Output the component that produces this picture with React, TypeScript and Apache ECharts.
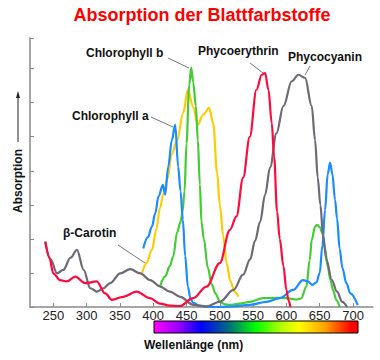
import React, { useEffect, useRef } from 'react';
import * as echarts from 'echarts';

const xTicks = [250, 300, 350, 400, 450, 500, 550, 600, 650, 700];

const carotinWave = [383, 390, 398, 405, 410, 415, 421, 428, 436, 445, 452, 460, 467, 475, 484, 490, 496, 500, 505, 510, 516, 522, 528];
const carotinValues = [0.97, 1.29, 1.68, 2.3, 2.9, 3.3, 3.74, 4.5, 4.9, 5.7, 6.38, 5.88, 5.35, 5.65, 5.85, 5.4, 3.94, 3.0, 2.1, 1.3, 0.75, 0.45, 0.3];

const chlBWave = [410, 418, 425, 430, 436, 441, 444, 447, 450, 454, 457, 460, 464, 467, 470, 472.5, 476, 482, 488, 494, 500, 508, 515, 530, 545, 565, 585, 600, 615, 622, 630, 635, 638, 643, 646, 650, 654, 658, 662, 666, 670, 675, 680];
const chlBValues = [0.59, 0.9, 1.2, 1.48, 2.2, 2.5, 2.8, 3.4, 4.8, 6.5, 7.03, 6.6, 5.9, 4.9, 3.6, 2.5, 2.0, 1.15, 0.65, 0.38, 0.15, 0.08, 0.06, 0.1, 0.15, 0.26, 0.27, 0.26, 0.22, 0.25, 0.6, 1.38, 1.97, 2.36, 2.41, 2.35, 2.17, 1.7, 1.2, 0.8, 0.5, 0.2, 0.0];

const chlAWave = [385, 392, 398, 403, 408, 414.5, 418, 422.5, 428, 433, 437.5, 441, 444.5, 448, 452, 456, 460, 470, 480, 500, 520, 545, 570, 590, 610, 625, 632, 639, 645, 650, 654, 658, 662, 665.5, 669, 673, 676, 680, 684, 690, 696, 707];
const chlAValues = [1.72, 2.05, 2.36, 2.75, 3.25, 3.59, 3.3, 4.12, 4.9, 5.35, 4.12, 3.4, 2.56, 1.5, 0.6, 0.25, 0.12, 0.03, 0.0, 0.0, 0.02, 0.06, 0.15, 0.26, 0.5, 0.79, 0.75, 0.65, 0.72, 1.0, 1.8, 2.85, 3.9, 4.24, 3.9, 3.15, 2.6, 1.7, 1.15, 0.7, 0.4, 0.06];

const phycoerythrinWave = [238, 244, 250, 260, 270, 283, 298, 315, 328, 338, 355, 375, 395, 410, 425, 440, 460, 480, 500, 515, 525, 535, 545, 555, 563, 568, 573, 578, 581.5, 586, 590, 595.5, 600, 603, 606];
const phycoerythrinValues = [1.92, 1.45, 0.99, 0.79, 0.75, 0.89, 0.7, 0.75, 0.4, 0.21, 0.3, 0.45, 0.26, 0.1, 0.04, 0.03, 0.26, 0.6, 1.29, 2.26, 2.66, 3.8, 5.0, 6.38, 6.82, 6.87, 6.38, 5.4, 4.42, 2.8, 2.0, 1.2, 0.5, 0.2, 0.0];

const phycocyaninWave = [238, 246, 255.5, 265, 276, 285.5, 295.5, 305.5, 315.5, 325, 335.5, 350.5, 365.5, 380.5, 395.5, 410.5, 425, 440.5, 460.5, 480, 500.5, 520.5, 535, 545.5, 553, 560.5, 568, 575.5, 585, 595.5, 608, 618, 628, 638, 643, 647, 651, 655, 660, 668, 676, 684, 691];
const phycocyaninValues = [1.92, 1.4, 0.99, 1.09, 1.45, 1.68, 1.09, 0.55, 0.45, 0.55, 0.7, 0.99, 1.11, 0.99, 0.79, 0.6, 0.45, 0.3, 0.06, 0.02, 0.16, 0.5, 0.95, 1.4, 1.95, 2.5, 3.3, 4.1, 5.1, 5.9, 6.63, 6.82, 6.73, 5.9, 4.9, 3.8, 3.0, 2.1, 1.4, 0.8, 0.45, 0.15, 0.0];

const FONT = '"Liberation Sans", Arial, sans-serif';

const zip = (w: number[], v: number[]) => w.map((x, i) => [x, v[i]]);

const line = (name: string, data: number[][], color: string) => ({
  name,
  type: 'line',
  data,
  smooth: 0.35,
  smoothMonotone: 'x',
  showSymbol: false,
  lineStyle: { color, width: 2.2 },
  itemStyle: { color },
});

const label = (text: string, x: number, y: number) => ({
  type: 'text',
  x,
  y,
  style: { text, fill: '#111', font: `bold 12px ${FONT}`, textAlign: 'left', textVerticalAlign: 'middle' },
});

const leader = (x1: number, y1: number, x2: number, y2: number) => ({
  type: 'line',
  shape: { x1, y1, x2, y2 },
  style: { stroke: '#777', lineWidth: 1 },
});

export default function App() {
  const ref = useRef<HTMLDivElement>(null);
  useEffect(() => {
    document.body.style.margin = '0';
    const chart = echarts.init(ref.current!, null, { renderer: 'svg' });
    chart.setOption({
      animation: false,
      backgroundColor: '#ffffff',
      grid: { left: 30, right: 7, top: 38, bottom: 53 },
      xAxis: {
        type: 'value',
        min: 215,
        max: 730,
        axisLine: { lineStyle: { color: '#8a8a8a', width: 1.5 } },
        axisTick: { inside: true, length: 4, customValues: xTicks, lineStyle: { color: '#8a8a8a' } },
        axisLabel: { customValues: xTicks, color: '#222', fontSize: 13, fontFamily: FONT, margin: 2 },
        splitLine: { show: false },
      },
      yAxis: {
        type: 'value',
        min: 0,
        max: 7.9,
        interval: 1,
        axisLine: { show: true, lineStyle: { color: '#8a8a8a', width: 1.5 } },
        axisTick: { show: true, inside: true, length: 4, lineStyle: { color: '#8a8a8a' } },
        axisLabel: { show: false },
        splitLine: { show: false },
      },
      series: [
        line('β-Carotin', zip(carotinWave, carotinValues), '#ffcc00'),
        line('Chlorophyll b', zip(chlBWave, chlBValues), '#44cc33'),
        line('Chlorophyll a', zip(chlAWave, chlAValues), '#1a8cff'),
        line('Phycocyanin', zip(phycocyaninWave, phycocyaninValues), '#6e6878'),
        line('Phycoerythrin', zip(phycoerythrinWave, phycoerythrinValues), '#ff0a3c'),
      ],
      graphic: [
        {
          type: 'text',
          x: 202,
          y: 15,
          style: { text: 'Absorption der Blattfarbstoffe', fill: '#ff0000', font: `bold 18px ${FONT}`, textAlign: 'center', textVerticalAlign: 'middle' },
        },
        label('Chlorophyll b', 86, 53),
        label('Phycoerythrin', 198, 51),
        label('Phycocyanin', 288, 57),
        label('Chlorophyll a', 72, 116),
        label('β-Carotin', 63, 233),
        leader(168, 58, 189, 68),
        leader(250, 63, 263, 73),
        leader(310, 66, 305, 75),
        leader(151, 117, 173, 127),
        leader(118, 245, 145, 263),
        {
          type: 'text',
          x: 18,
          y: 181,
          rotation: Math.PI / 2,
          style: { text: 'Absorption', fill: '#111', font: `bold 12px ${FONT}`, textAlign: 'center', textVerticalAlign: 'middle' },
        },
        { type: 'line', shape: { x1: 18, y1: 142, x2: 18, y2: 96 }, style: { stroke: '#222', lineWidth: 1 } },
        { type: 'polygon', shape: { points: [[18, 91], [16, 98], [20, 98]] }, style: { fill: '#222' } },
        {
          type: 'rect',
          shape: { x: 154, y: 321, width: 204, height: 12 },
          style: {
            stroke: '#000',
            lineWidth: 1,
            fill: new echarts.graphic.LinearGradient(0, 0, 1, 0, [
              { offset: 0, color: '#ff00ff' },
              { offset: 0.12, color: '#9a00ff' },
              { offset: 0.23, color: '#0000ff' },
              { offset: 0.37, color: '#00707a' },
              { offset: 0.5, color: '#00ff00' },
              { offset: 0.62, color: '#b0ff00' },
              { offset: 0.71, color: '#ffff00' },
              { offset: 0.84, color: '#ffa000' },
              { offset: 0.97, color: '#ff0000' },
              { offset: 1, color: '#ff0000' },
            ]),
          },
        },
        {
          type: 'text',
          x: 144,
          y: 345,
          style: { text: 'Wellenlänge (nm)', fill: '#111', font: `bold 12px ${FONT}`, textAlign: 'left', textVerticalAlign: 'middle' },
        },
      ],
    });
    return () => chart.dispose();
  }, []);
  return <div ref={ref} style={{ width: 380, height: 360 }} />;
}
